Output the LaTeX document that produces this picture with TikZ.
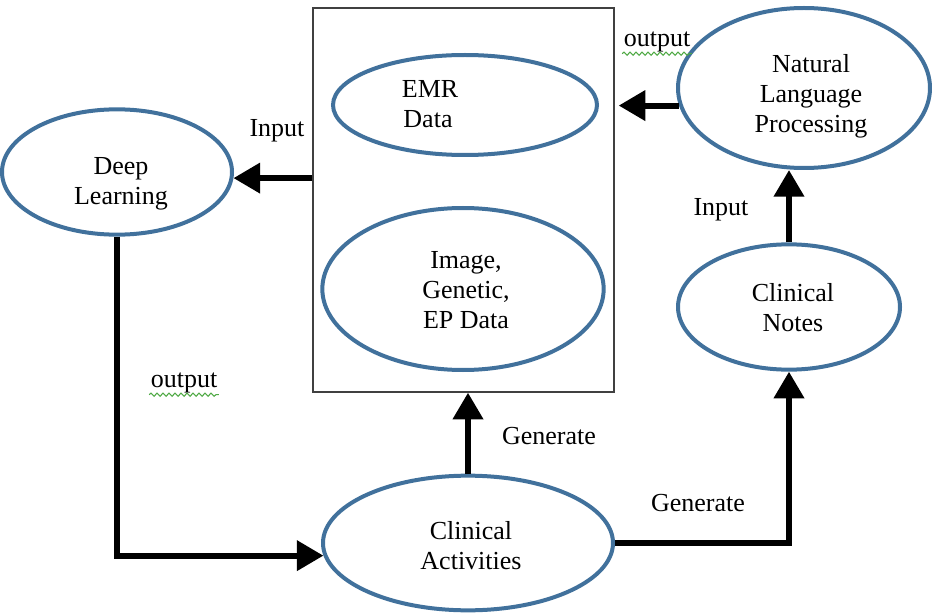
\documentclass[tikz,border=0pt]{standalone}
\usepackage{fontspec}
\setmainfont{Liberation Serif}
\usetikzlibrary{shapes,arrows.meta,positioning,decorations.pathmorphing}
\definecolor{ovalblue}{RGB}{65,113,156}
\definecolor{squiggreen}{RGB}{80,170,70}

\begin{document}
\begin{tikzpicture}[x=0.75pt,y=-0.75pt,
  oval/.style={draw=ovalblue,line width=3pt,ellipse,inner sep=0pt},
  txt/.style={font=\fontsize{19.5}{22.5}\selectfont},
  lbl/.style={font=\fontsize{19.5}{22.5}\selectfont,inner sep=1pt},
  flow/.style={line width=4.5pt,-{Triangle[length=20pt,width=22pt]}},
  squig/.style={draw=squiggreen,line width=0.8pt,decorate,decoration={snake,amplitude=1.2pt,segment length=4.5pt}}]
\useasboundingbox (0,0) rectangle (932,613);

% data box
\node[draw=black!75,line width=1pt,minimum width=225.75pt,minimum height=288pt,inner sep=0pt] (box) at (463.5,200) {};

% ovals
\node[oval,minimum width=198pt,minimum height=75pt] (EMR) at (465,105) {};
\node[oval,minimum width=211pt,minimum height=121.5pt] (IMG) at (463,289) {};
\node[oval,minimum width=172.5pt,minimum height=94pt] (DL) at (117,172) {};
\node[oval,minimum width=189pt,minimum height=120pt] (NLP) at (804,88) {};
\node[oval,minimum width=166.5pt,minimum height=94pt] (CN) at (789,307) {};
\node[oval,minimum width=217.5pt,minimum height=101pt] (CA) at (468,543) {};

% texts inside the ovals
\node[txt,align=center] (tEMR) at (428,104) {\,EMR\\Data};
\node[txt,align=center] (tIMG) at (466,290) {Image,\\Genetic,\\EP Data};
\node[txt,align=center] (tDL) at (121,184) {Deep\\Learning};
\node[txt,align=center] (tNLP) at (811,96) {Natural\\Language\\Processing};
\node[txt,align=center] (tCN) at (793,308) {Clinical\\Notes};
\node[txt,align=center] (tCA) at (471,546) {Clinical\\Activities};

% connectors
\draw[flow] (box.west |- DL.-3) -- (DL.-3);
\draw[flow,shorten >=3pt] (NLP.188) -- (box.east |- NLP.188);
\draw[flow] (CN.north) -- (CN.north |- NLP.south);
\draw[flow] (CA.north) -- (CA.north |- box.south);
\draw[flow] (CA.east) -| (CN.south);
\draw[flow] (DL.south) |- (CA.185);

% labels
\node[lbl] (in1) at (277,131) {Input};
\node[lbl] (out1) at (657,42) {output};
\node[lbl] (in2) at (721,210) {Input};
\node[lbl] (gen1) at (549,436) {Generate};
\node[lbl] (gen2) at (698,503) {Generate};
\node[lbl] (out2) at (184,383) {output};
\draw[squig] (out1.south west) -- (out1.south east);
\draw[squig] (out2.south west) -- (out2.south east);
\end{tikzpicture}
\end{document}
